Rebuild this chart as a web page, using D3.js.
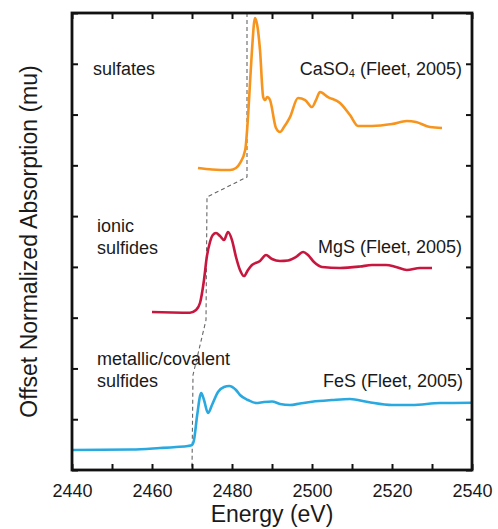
<!DOCTYPE html>
<html>
<head>
<meta charset="utf-8">
<script src="https://cdn.jsdelivr.net/npm/d3@7"></script>
<style>
  body { margin: 0; background: #fff; }
  text { font-family: "Liberation Sans", Arial, Helvetica, sans-serif; fill: #1a1a1a; }
</style>
</head>
<body>
<div class="graph-goes-here"></div>
<script>
// spectra: energy (eV) and offset absorption (axis units)
var fesEnergy = [2440, 2455, 2462, 2466, 2469, 2470, 2470.5, 2471.3, 2472.3, 2473, 2474, 2475, 2476.5, 2478, 2479.3, 2481, 2482, 2484, 2486, 2488, 2490, 2492, 2494.5, 2497, 2500, 2505, 2509.5, 2514, 2520, 2525, 2532, 2540];
var fesMu = [0.394, 0.404, 0.433, 0.453, 0.473, 0.492, 0.59, 1.083, 1.516, 1.378, 1.122, 1.28, 1.536, 1.634, 1.654, 1.575, 1.477, 1.378, 1.319, 1.339, 1.349, 1.30, 1.28, 1.31, 1.345, 1.378, 1.398, 1.339, 1.28, 1.28, 1.319, 1.325];

var mgsEnergy = [2460, 2465, 2469.5, 2471, 2472, 2473, 2473.7, 2474.5, 2475.2, 2476, 2477, 2478, 2479, 2480, 2481, 2482, 2483, 2484, 2485, 2487, 2488.5, 2490, 2492, 2494, 2496, 2497.8, 2499, 2500.5, 2502.5, 2507, 2512, 2515, 2518.5, 2521, 2523.7, 2527, 2530];
var mgsMu = [3.111, 3.102, 3.098, 3.151, 3.289, 3.742, 4.195, 4.49, 4.628, 4.667, 4.608, 4.529, 4.687, 4.529, 4.195, 3.939, 3.82, 3.939, 4.037, 4.116, 4.234, 4.155, 4.116, 4.126, 4.195, 4.293, 4.234, 4.096, 3.998, 3.978, 4.007, 4.037, 4.037, 3.998, 3.939, 3.978, 3.978];

var casoEnergy = [2471.5, 2475, 2479.5, 2481, 2482, 2483.3, 2484, 2484.5, 2485, 2485.75, 2486.3, 2487, 2487.8, 2488.3, 2488.8, 2489.5, 2491, 2492, 2493, 2494.5, 2496.5, 2498.3, 2500, 2501, 2502, 2504, 2507, 2509.5, 2511.5, 2515, 2520, 2523.7, 2526, 2529.5, 2532.5];
var casoMu = [5.947, 5.918, 5.908, 5.947, 6.045, 6.301, 6.951, 7.621, 8.271, 8.901, 8.763, 8.271, 7.345, 7.286, 7.345, 7.286, 6.735, 6.656, 6.754, 6.951, 7.326, 7.286, 7.148, 7.286, 7.444, 7.345, 7.227, 6.99, 6.774, 6.774, 6.813, 6.872, 6.853, 6.754, 6.735];

// dashed guide through the edge positions
var edgeEnergy = [2483.75, 2483.75, 2473.75, 2473.5, 2470.25, 2470];
var edgeMu = [9, 5.77, 5.376, 2.954, 1.871, 0];

var xTicks = [2440, 2460, 2480, 2500, 2520, 2540];

var margin = { top: 13, right: 26, bottom: 59, left: 72 },
    width = 498 - margin.left - margin.right,
    height = 529 - margin.top - margin.bottom;

var svg = d3.select(".graph-goes-here")
    .append("svg")
    .attr("width", width + margin.left + margin.right)
    .attr("height", height + margin.top + margin.bottom)
    .append("g")
    .attr("transform", "translate(" + margin.left + "," + margin.top + ")");

var xScale = d3.scaleLinear().domain([2440, 2540]).range([0, width]);
var yScale = d3.scaleLinear().domain([0, 9]).range([height, 0]);

function toPoints(xs, ys) {
    return xs.map((x, i) => ({ e: x, mu: ys[i] }))
}

var line = d3.line()
    .curve(d3.curveMonotoneX)
    .x(d => xScale(d.e))
    .y(d => yScale(d.mu))

// dashed edge guide
svg.append("path")
    .datum(toPoints(edgeEnergy, edgeMu))
    .attr("fill", "none")
    .attr("stroke", "#666")
    .attr("stroke-width", 1.1)
    .attr("stroke-dasharray", "4,3")
    .attr("d", d3.line().x(d => xScale(d.e)).y(d => yScale(d.mu)))

var series = [
    { pts: toPoints(fesEnergy, fesMu), color: "#29a9e0" },
    { pts: toPoints(mgsEnergy, mgsMu), color: "#c8173f" },
    { pts: toPoints(casoEnergy, casoMu), color: "#f7941d" }
]

series.forEach(s => {
    svg.append("path")
        .datum(s.pts)
        .attr("fill", "none")
        .attr("stroke", s.color)
        .attr("stroke-width", 2.6)
        .attr("stroke-linejoin", "round")
        .attr("d", line)
})

// axes: ticks inward on all four sides
var tickStyle = g => {
    g.select(".domain").remove()
    g.selectAll(".tick line").attr("stroke", "#111").attr("stroke-width", 2)
}

svg.append("g")
    .attr("transform", "translate(0," + height + ")")
    .call(d3.axisBottom(xScale).tickValues(d3.range(2440, 2541, 10)).tickSizeInner(-6).tickSizeOuter(0)
        .tickFormat(d => xTicks.includes(d) ? d : ""))
    .call(tickStyle)
    .call(g => g.selectAll(".tick text")
        .attr("y", 14)
        .attr("fill", "#1a1a1a")
        .style("font-size", "18px"))

svg.append("g")
    .call(d3.axisTop(xScale).tickValues(d3.range(2440, 2541, 10)).tickSizeInner(-6).tickSizeOuter(0).tickFormat(""))
    .call(tickStyle)

svg.append("g")
    .call(d3.axisLeft(yScale).ticks(9).tickSizeInner(-6).tickSizeOuter(0).tickFormat(""))
    .call(tickStyle)

svg.append("g")
    .attr("transform", "translate(" + width + ",0)")
    .call(d3.axisRight(yScale).ticks(9).tickSizeInner(-6).tickSizeOuter(0).tickFormat(""))
    .call(tickStyle)

svg.append("rect")
    .attr("width", width)
    .attr("height", height)
    .attr("fill", "none")
    .attr("stroke", "#111")
    .attr("stroke-width", 2.8)

// axis titles
svg.append("text")
    .attr("x", width / 2)
    .attr("y", height + 52)
    .attr("text-anchor", "middle")
    .style("font-size", "23px")
    .text("Energy (eV)")

svg.append("text")
    .attr("transform", "translate(-35," + (height / 2) + ") rotate(-90)")
    .attr("text-anchor", "middle")
    .style("font-size", "23px")
    .text("Offset Normalized Absorption (mu)")

// annotations
var leftLabels = [
    { lines: ["sulfates"], y: 62, x: 21 },
    { lines: ["ionic", "sulfides"], y: 219, x: 25 },
    { lines: ["metallic/covalent", "sulfides"], y: 352, x: 25 }
]
leftLabels.forEach(l => {
    var t = svg.append("text")
        .attr("y", l.y)
        .style("font-size", "18px")
    l.lines.forEach((s, i) => {
        t.append("tspan").attr("x", l.x).attr("dy", i == 0 ? 0 : 22).text(s)
    })
})

var casoLabel = svg.append("text")
    .attr("x", width - 10)
    .attr("y", 62)
    .attr("text-anchor", "end")
    .style("font-size", "18px")
casoLabel.append("tspan").text("CaSO")
casoLabel.append("tspan").style("font-size", "11px").attr("dy", 2).text("4")
casoLabel.append("tspan").attr("dy", -2).text(" (Fleet, 2005)")

svg.append("text")
    .attr("x", width - 10)
    .attr("y", 240)
    .attr("text-anchor", "end")
    .style("font-size", "18px")
    .text("MgS (Fleet, 2005)")

svg.append("text")
    .attr("x", width - 9)
    .attr("y", 374)
    .attr("text-anchor", "end")
    .style("font-size", "18px")
    .text("FeS (Fleet, 2005)")
</script>
</body>
</html>
